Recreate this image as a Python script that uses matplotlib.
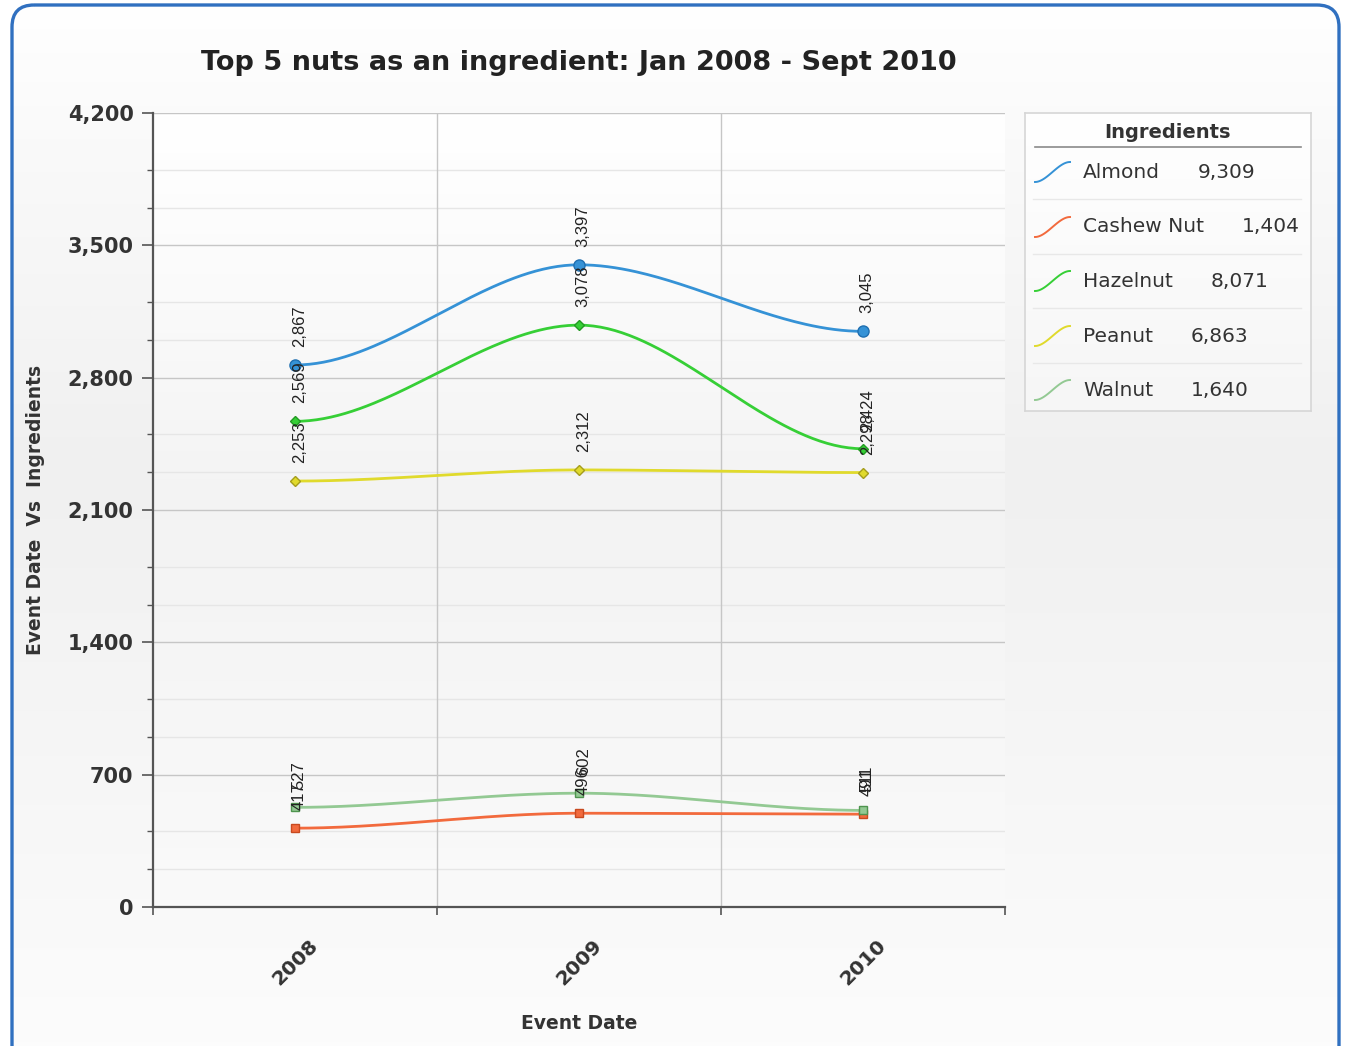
import numpy as np
import matplotlib.pyplot as plt
import matplotlib.transforms as mtransforms
from matplotlib.patches import FancyBboxPatch
from matplotlib.colors import LinearSegmentedColormap

years = ['2008', '2009', '2010']
almond = [2867, 3397, 3045]
cashew = [417, 496, 491]
hazelnut = [2569, 3078, 2424]
peanut = [2253, 2312, 2298]
walnut = [527, 602, 511]

names = ['Almond', 'Cashew Nut', 'Hazelnut', 'Peanut', 'Walnut']
series = [almond, cashew, hazelnut, peanut, walnut]
colors = ['#3592d6', '#f26a3d', '#36cf36', '#e0da2c', '#93c993']
edges = ['#1f6fb0', '#c84a20', '#239a23', '#a59d1c', '#4f944f']
markers = ['o', 's', 'D', 'D', 's']
msizes = [8, 6, 5, 5, 6]

W, H = 1345, 1046


def smooth(vals, n=80):
    # cubic ease between neighbouring points, flat at each point
    xs, ys = [], []
    for i in range(len(vals) - 1):
        t = np.linspace(0, 1, n)
        s = 3 * t ** 2 - 2 * t ** 3
        xs.append(i + t)
        ys.append(vals[i] + (vals[i + 1] - vals[i]) * s)
    return np.concatenate(xs), np.concatenate(ys)


fig = plt.figure(figsize=(W / 100, H / 100), dpi=100)
fig.patch.set_facecolor('white')

# rounded panel with soft grey gradient
bg = fig.add_axes([0, 0, 1, 1])
bg.set_xlim(0, W)
bg.set_ylim(H, 0)
bg.axis('off')
panel_cmap = LinearSegmentedColormap.from_list(
    'panel', [(0, '#ffffff'), (0.1, '#fbfbfb'), (0.45, '#f0f0f0'), (1, '#fcfcfc')])
grad = np.linspace(0, 1, 256).reshape(-1, 1)
im = bg.imshow(grad, cmap=panel_cmap, extent=[0, W, H, 0], aspect='auto', zorder=0)
frame = FancyBboxPatch((12, 5), W - 12 - 6, H + 20, boxstyle='round,pad=0,rounding_size=22',
                       facecolor='none', edgecolor='#3070c0', linewidth=2.4, zorder=2)
bg.add_patch(frame)
im.set_clip_path(frame)

ax = fig.add_axes([153 / W, 1 - 907 / H, (1005 - 153) / W, (907 - 113) / H])
ax.set_xlim(-0.5, 2.5)
ax.set_ylim(0, 4200)
plot_cmap = LinearSegmentedColormap.from_list(
    'plot', [(0, '#ffffff'), (0.2, '#fbfbfb'), (0.5, '#f3f3f3'), (1, '#fafafa')])
ax.imshow(grad, cmap=plot_cmap, extent=[-0.5, 2.5, 0, 4200], aspect='auto', zorder=0,
          origin='upper')
ax.set_facecolor('none')

majors = np.arange(0, 4201, 700)
minors = [m + d for m in majors[:-1] for d in (200, 400)]
for y in minors:
    ax.axhline(y, color='#e6e6e6', lw=1.0, zorder=1)
for y in majors[1:]:
    ax.axhline(y, color='#c6c6c6', lw=1.0, zorder=1)
for x in (0.5, 1.5):
    ax.axvline(x, color='#c6c6c6', lw=1.0, zorder=1)

ax.set_yticks(majors)
ax.set_yticklabels([f'{v:,}' for v in majors])
ax.set_yticks(minors, minor=True)
ax.set_xticks([-0.5, 0.5, 1.5, 2.5])
ax.set_xticklabels([])
ax.set_xticks([0, 1, 2], minor=True)
ax.set_xticklabels(years, minor=True, rotation=45, ha='center', va='top',
                   fontsize=14.5, fontweight='bold', color='#333333')
shift = mtransforms.ScaledTranslation(-8 / 100, 0, fig.dpi_scale_trans)
for lab in ax.get_xticklabels(minor=True):
    lab.set_transform(lab.get_transform() + shift)
ax.tick_params(axis='x', which='minor', length=0, pad=21)
ax.tick_params(axis='x', which='major', length=6, width=1.2, color='#555555', direction='out')
ax.tick_params(axis='y', which='major', length=8, width=1.2, color='#555555',
               labelsize=15, labelcolor='#333333', pad=6)
ax.tick_params(axis='y', which='minor', length=4, width=1.0, color='#555555')
for lab in ax.get_yticklabels():
    lab.set_fontweight('bold')

for side in ('top', 'right'):
    ax.spines[side].set_visible(False)
for side in ('left', 'bottom'):
    ax.spines[side].set_color('#555555')
    ax.spines[side].set_linewidth(1.6)

ax.set_xlabel('Event Date', fontsize=13.5, fontweight='bold', color='#333333', labelpad=18)
ax.set_ylabel('Event Date  Vs  Ingredients', fontsize=13.5, fontweight='bold',
              color='#333333', labelpad=16)

xs_pts = np.arange(len(years))
for vals, c, ec, mk, ms in zip(series, colors, edges, markers, msizes):
    sx, sy = smooth(vals)
    ax.plot(sx, sy, color=c, lw=2.0, zorder=3, solid_capstyle='round')
    ax.plot(xs_pts, vals, linestyle='none', marker=mk, markersize=ms,
            markerfacecolor=c, markeredgecolor=ec, markeredgewidth=1.0, zorder=4)
    for x, v in zip(xs_pts, vals):
        ax.annotate(f'{v:,}', (x, v), xytext=(3, 13), textcoords='offset points',
                    rotation=90, ha='center', va='bottom', fontsize=12,
                    family='Liberation Sans', color='#222222', zorder=5)

fig.text(579 / W, 1 - 63 / H, 'Top 5 nuts as an ingredient: Jan 2008 - Sept 2010',
         ha='center', va='center', fontsize=19.5, fontweight='bold', color='#222222')

# legend panel
lg = fig.add_axes([1025 / W, 1 - 411 / H, 286 / W, 298 / H])
lg.set_xlim(0, 286)
lg.set_ylim(298, 0)
lg.set_xticks([])
lg.set_yticks([])
lg.imshow(grad, cmap=LinearSegmentedColormap.from_list('lg', ['#ffffff', '#f6f6f6']),
          extent=[0, 286, 298, 0], aspect='auto', zorder=0)
for s in lg.spines.values():
    s.set_color('#d6d6d6')
    s.set_linewidth(1.2)
lg.text(143, 19, 'Ingredients', ha='center', va='center', fontsize=14,
        fontweight='bold', color='#333333')
lg.plot([10, 276], [34, 34], color='#8a8a8a', lw=1.2)
rows = [59, 114, 168, 223, 277]
for y in rows[:-1]:
    lg.plot([8, 276], [y + 27, y + 27], color='#e8e8e8', lw=1.0)

fig.canvas.draw()
renderer = fig.canvas.get_renderer()
inv = lg.transData.inverted()
t = np.linspace(0, 1, 30)
for name, vals, c, y in zip(names, series, colors, rows):
    lg.plot(10 + 35 * t, y + 10 - 20 * (3 * t ** 2 - 2 * t ** 3), color=c, lw=1.4)
    nt = lg.text(58, y, name, ha='left', va='center', fontsize=14.5, color='#333333')
    bb = nt.get_window_extent(renderer)
    x_end = inv.transform((bb.x1, bb.y0))[0]
    lg.text(x_end + 38, y, f'{sum(vals):,}', ha='left', va='center', fontsize=14.5,
            color='#333333')

fig.savefig('out.png', dpi=100)
